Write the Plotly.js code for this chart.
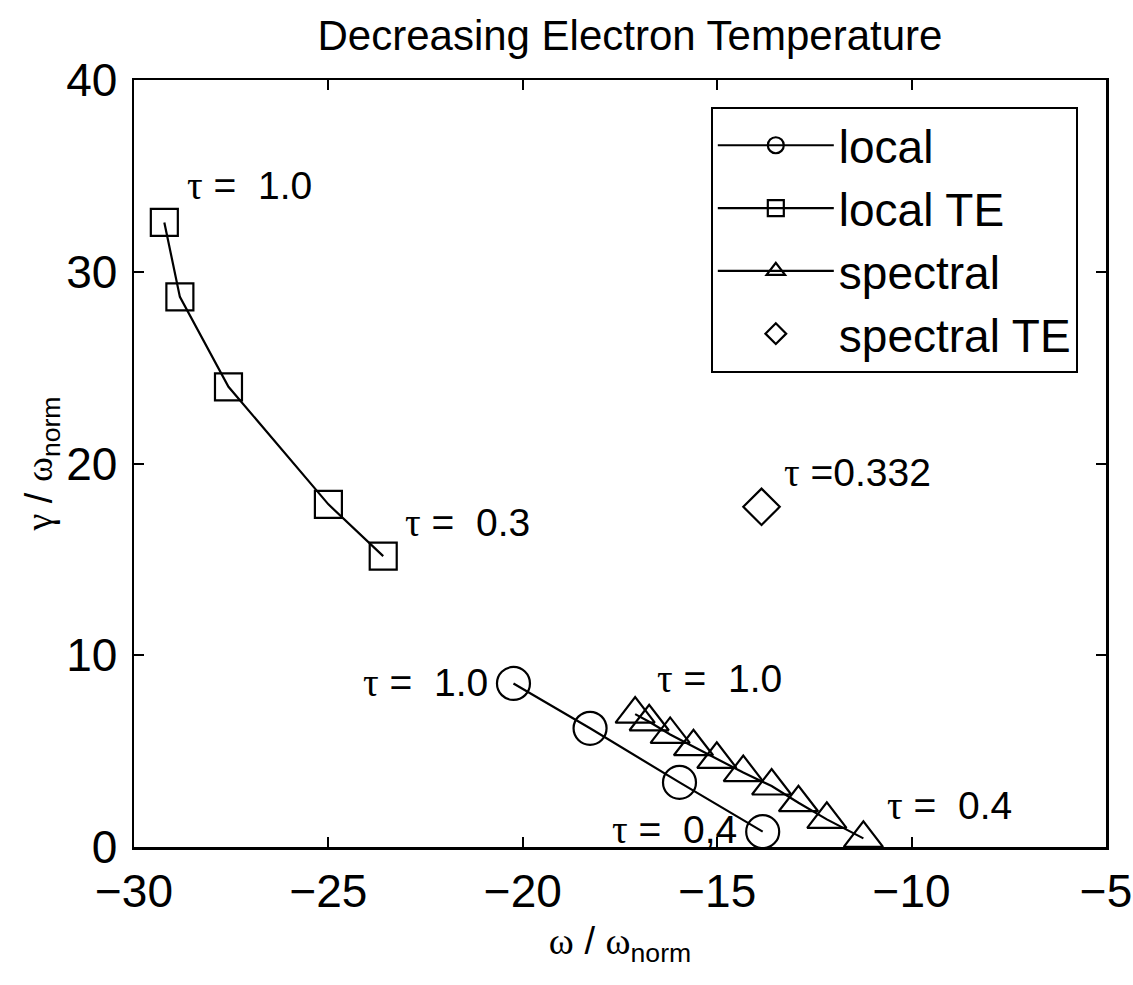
<!DOCTYPE html>
<html>
<head>
<meta charset="utf-8">
<script src="https://cdn.plot.ly/plotly-3.0.1.min.js"></script>
<style>html,body{margin:0;padding:0;background:#fff;}</style>
</head>
<body>
<div id="chart" style="width:1133px;height:985px;"></div>
<script>
// local (circles)
const localX = [-20.24, -18.27, -15.97, -13.83];
const localY = [8.53, 6.19, 3.37, 0.80];
// local TE (squares)
const localTEX = [-29.22, -28.82, -27.57, -25.0, -23.59];
const localTEY = [32.57, 28.69, 24.0, 17.87, 15.17];
// spectral (triangles)
const spectralX = [-17.11, -16.75, -16.21, -15.61, -15.01, -14.33, -13.60, -12.91, -12.18, -11.24];
const spectralY = [6.93, 6.53, 5.87, 5.23, 4.57, 3.88, 3.18, 2.31, 1.44, 0.45];
// spectral TE (diamond)
const spectralTEX = [-13.86];
const spectralTEY = [17.74];

const seriesNames = ["local", "local TE", "spectral", "spectral TE"];

// tau labels
const tauLabels = ["1.0", "0.3", "1.0", "1.0", "0,4", "0.4", "0.332"];
const tauX = [-28.69, -23.08, -20.84, -16.6, -17.76, -10.68, -13.33];
const tauY = [34.5, 16.9, 8.6, 8.81, 0.89, 2.19, 19.55];
const tauAnchor = ["left", "left", "right", "left", "left", "left", "left"];
const tauTight = [false, false, false, false, false, false, true];

const xTicks = [-30, -25, -20, -15, -10, -5];
const yTicks = [0, 10, 20, 30, 40];

const FONT = '"Liberation Sans", Arial, Helvetica, sans-serif';
const SERIF = "'Liberation Serif', 'DejaVu Serif', serif";
const lineStyle = {color: '#000', width: 2.2};
const mLine = {width: 2.2, color: '#000'};

const traces = [
  {x: localX, y: localY, name: seriesNames[0], mode: 'lines+markers', line: lineStyle,
   marker: {symbol: 'circle-open', size: 33, color: '#000', line: mLine}},
  {x: localTEX, y: localTEY, name: seriesNames[1], mode: 'lines+markers', line: lineStyle,
   marker: {symbol: 'square-open', size: 27, color: '#000', line: mLine}},
  {x: spectralX, y: spectralY, name: seriesNames[2], mode: 'lines+markers', line: lineStyle,
   marker: {symbol: 'triangle-up-open', size: 34, color: '#000', line: mLine}},
  {x: spectralTEX, y: spectralTEY, name: seriesNames[3], mode: 'markers',
   marker: {symbol: 'diamond-open', size: 28, color: '#000', line: mLine}}
];

const g = s => '<span style="font-family:' + SERIF + '">' + s + '</span>';
const annotations = tauLabels.map((v, i) => ({
  x: tauX[i], y: tauY[i], xref: 'x', yref: 'y',
  text: g('τ') + (tauTight[i] ? '\u00a0=' : '\u00a0=\u00a0\u00a0') + v,
  showarrow: false, xanchor: tauAnchor[i], yanchor: 'middle',
  font: {family: FONT, size: 39, color: '#000'}
}));

const axisCommon = {
  showgrid: false, zeroline: false, showline: true, linecolor: '#000', linewidth: 2.5,
  mirror: 'ticks', ticks: 'inside', ticklen: 10, tickwidth: 2, tickcolor: '#000',
  tickfont: {family: FONT, size: 46, color: '#000'}
};

const layout = {
  width: 1133, height: 985,
  margin: {l: 134, r: 27, t: 80, b: 138},
  paper_bgcolor: '#fff', plot_bgcolor: '#fff',
  showlegend: true,
  title: {text: 'Decreasing Electron Temperature', x: 0.556, xanchor: 'center', y: 0.964, yanchor: 'middle',
          font: {family: FONT, size: 42, color: '#000'}},
  xaxis: Object.assign({}, axisCommon, {
    range: [-30, -5], tickvals: xTicks, ticktext: xTicks.map(v => v < 0 ? '\u2212' + Math.abs(v) : String(v)),
    ticklabelstandoff: 2,
    title: {text: g('ω') + ' / ' + g('ω') + '<sub>norm</sub>',
            font: {family: FONT, size: 38, color: '#000'}, standoff: 12}
  }),
  yaxis: Object.assign({}, axisCommon, {
    range: [0, 40], tickvals: yTicks, ticktext: yTicks.map(String),
    ticklabelstandoff: 5,
    title: {text: g('γ') + ' / ' + g('ω') + '<sub>norm</sub>',
            font: {family: FONT, size: 38, color: '#000'}, standoff: 2}
  }),
  legend: {x: 0.971, y: 0.965, xanchor: 'right', yanchor: 'top',
           bgcolor: '#fff', bordercolor: '#000', borderwidth: 2,
           font: {family: FONT, size: 46, color: '#000'}, itemwidth: 116, tracegroupgap: 0},
  annotations: annotations
};

Plotly.newPlot('chart', traces, layout, {displayModeBar: false, staticPlot: true});
</script>
</body>
</html>
